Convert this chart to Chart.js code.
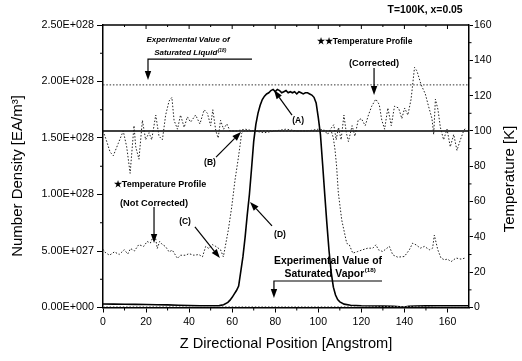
<!DOCTYPE html>
<html>
<head>
<meta charset="utf-8">
<title>Number density and temperature profile</title>
<script src="https://cdn.jsdelivr.net/npm/chart.js@4.4.1/dist/chart.umd.min.js"></script>
<style>
  body { margin: 0; background: #fff; }
  #wrap { width: 522px; height: 361px; }
</style>
</head>
<body>
<div id="wrap"><canvas id="chart" width="522" height="361"></canvas></div>
<script>
// Number density profile (solid line), in units of 1E+28 EA/m3
const densZ = [0, 5, 10, 15, 20, 25, 30, 35, 40, 45, 50, 54, 56, 58, 59,
  60, 61, 62, 63, 64, 65, 66, 67, 68, 69, 70, 71, 72, 73, 74, 75, 76, 77, 78, 79,
  80, 81, 82, 83, 84, 85, 86, 87, 88, 89, 90, 91, 92, 93, 94, 95, 96, 97, 98, 99,
  100, 101, 102, 103, 104, 105, 106, 107, 108, 109, 110,
  112, 115, 120, 125, 130, 135, 138, 140, 142, 145, 150, 155, 160, 165, 170];
const densE28 = [0.031, 0.030, 0.029, 0.028, 0.027, 0.025, 0.023, 0.020, 0.018, 0.016, 0.015, 0.017, 0.025, 0.045, 0.065,
  0.09, 0.12, 0.15, 0.19, 0.32, 0.45, 0.62, 0.82, 1.00, 1.23, 1.47, 1.62, 1.72, 1.79, 1.84, 1.87, 1.89, 1.90, 1.92, 1.93,
  1.91, 1.93, 1.92, 1.90, 1.91, 1.92, 1.90, 1.91, 1.90, 1.91, 1.89, 1.91, 1.90, 1.89, 1.90, 1.90, 1.89, 1.88, 1.86, 1.81,
  1.68, 1.53, 1.27, 1.00, 0.74, 0.50, 0.31, 0.18, 0.11, 0.07, 0.05,
  0.03, 0.02, 0.015, 0.013, 0.012, 0.010, 0.006, 0.003, 0.010, 0.013, 0.014, 0.015, 0.015, 0.015, 0.015];

// Temperature profile, corrected (dotted, right axis)
const tcZ = [0, 0.9, 2, 3.3, 4.8, 7.1, 9.4, 11, 12.6, 14.4, 15.2, 16.7, 18.3, 19.8, 21.4, 22.6, 24.5, 26, 27.6, 29.1,
  30.7, 32, 33, 34.6, 36, 37.7, 39.2, 40.7, 43, 45, 47, 48.5, 50, 51, 52.4, 53.5, 54.6, 56, 57.5, 59,
  62, 66, 70, 75, 80, 85, 90, 95, 100,
  102.8, 104.3, 105.9, 107.2, 108.3, 109.4, 110.6, 111.9, 113, 114, 115.7, 117, 118.5, 120, 121.8, 123.3, 124.8,
  126.7, 128.3, 129.5, 130.8, 132.3, 133.9, 135.4, 137.3, 138.8, 140.1, 141.6, 143.1, 144.7, 145.8, 147.8, 149.7,
  151.2, 152.8, 153.6, 154.4, 155.6, 156.7, 158.2, 159.8, 161.3, 162.9, 164.4, 166, 167.5, 168.6];
const tcT = [100, 97, 93, 88, 86, 93, 100, 91, 76, 103, 91, 84, 106, 95, 99, 95, 109, 97, 95, 109,
  117, 119, 106, 101, 109, 102, 108, 105, 109, 104, 112, 110, 103, 112, 100, 96, 106, 101, 104, 100,
  100, 101, 100, 99, 100, 101, 100, 100, 101,
  100.5, 98, 101.5, 103.5, 95, 102, 95, 109, 99, 94, 103, 97, 106, 107, 103, 109, 114,
  118, 115, 106, 101, 113, 103, 114, 113, 107, 113, 109, 118, 136, 134, 126, 121,
  114, 107, 98, 118, 112, 102, 95, 101, 91, 98, 89, 95, 100, 102];

// Temperature profile, not corrected (dotted, right axis)
const tnZ = [0, 0.7, 3, 5.3, 7.5, 9.9, 11.5, 12.8, 14.6, 16.6, 18.9, 20.5, 22, 23, 24.2, 25.2, 26.3, 27.6, 29,
  30.7, 32.2, 34.6, 36, 38.4, 39.9, 42.2, 44.5, 46.2, 47.7, 49.2, 50.8, 52.4, 54.6, 55.9,
  58.2, 59.8, 61.3, 62.9, 64.4, 65.5, 70, 80, 90, 100, 106,
  107, 107.8, 108.5, 109.3, 110.9, 113.2, 114.4, 116, 118.3, 120.6, 123, 125.3, 126.8, 127.9, 129.9,
  131.9, 133, 134.6, 136.9, 140, 142.3, 143.8, 145.4, 147.4, 149.3, 151.6, 153.1, 153.9, 155.5,
  157, 158.6, 160, 161.7, 164, 166.3, 168.2];
const tnT = [33, 31.5, 29.6, 31.5, 30, 32.7, 30.3, 33.4, 32, 35.6, 34.6, 37.4, 36.5, 39.3, 41, 33.4, 37.4, 35.6, 34.6,
  31.5, 32.5, 27.8, 29.6, 29.6, 30.5, 29.6, 30, 28.7, 34.6, 33.4, 35.6, 34.6, 32.7, 28.7,
  43.8, 57, 72, 85, 98.6, 100, 100, 100, 100, 100, 100,
  96, 89, 80, 65, 49.5, 36.4, 35.5, 30.8, 31.7, 32.7, 33.6, 33.6, 35.5, 32.7, 31.7,
  33.6, 34.6, 29.8, 28.5, 28.9, 32.7, 36.4, 35.5, 33.6, 34.6, 32.7, 33.6, 41, 32.7,
  28, 27, 27.4, 26, 28, 27.4, 28];

// Reference levels
const satLiquidE28 = 1.97;   // experimental saturated liquid density
const satVaporE28 = 0.008;   // experimental saturated vapor density
const refTemp = 100;         // T = 100 K
const zRange = [0, 170];

const E28 = 1e28;
const FONT = "'Liberation Sans', Arial, sans-serif";

// Text notes and arrows, placed in (z, temperature) units
const notes = [
  { text: 'T=100K, x=0.05', z: 149.6, t: 168.5, size: 10.4 },
  { text: 'Experimental Value of', z: 39.5, t: 151.8, size: 8, italic: true },
  { text: 'Saturated Liquid', sup: '(18)', z: 40.4, t: 144.1, size: 8, italic: true },
  { text: '\u2605\u2605Temperature Profile', z: 121.5, t: 150.4, size: 8.5 },
  { text: '(Corrected)', z: 125.9, t: 138.5, size: 9.3 },
  { text: '(A)', z: 90.6, t: 106, size: 8.5 },
  { text: '(B)', z: 49.7, t: 81.8, size: 8.5 },
  { text: '\u2605Temperature Profile', z: 26.5, t: 69.9, size: 9 },
  { text: '(Not Corrected)', z: 23.7, t: 59.2, size: 9.3 },
  { text: '(C)', z: 38.1, t: 48.4, size: 8.5 },
  { text: '(D)', z: 82.2, t: 41.1, size: 8.5 },
  { text: 'Experimental Value of', z: 104.5, t: 26.3, size: 10.4 },
  { text: 'Saturated Vapor', sup: '(18)', z: 105.4, t: 19.0, size: 10.4 }
];
const arrows = [
  [[69.2, 140.7], [20.9, 140.7], [20.9, 128.9]],
  [[125.9, 135.7], [125.9, 120.4]],
  [[87.8, 109.0], [79.4, 123.2]],
  [[52.5, 85.2], [64.1, 99.4]],
  [[23.7, 56.9], [23.7, 36.5]],
  [[42.7, 45.6], [54.3, 28.0]],
  [[78.5, 46.2], [68.3, 59.8]],
  [[129.6, 15.0], [79.4, 15.0], [79.4, 5.4]]
];

function pts(xs, ys, k) {
  return xs.map((x, i) => ({ x: x, y: ys[i] * (k || 1) }));
}

function sci(v) {
  if (v === 0) return '0.00E+000';
  let e = Math.floor(Math.log10(Math.abs(v)));
  let m = v / Math.pow(10, e);
  if (Math.round(m * 100) / 100 >= 10) { m /= 10; e++; }
  return m.toFixed(2) + 'E' + (e < 0 ? '-' : '+') + String(Math.abs(e)).padStart(3, '0');
}

// Minor ticks, top frame, axis titles, notes and arrows
const extras = {
  id: 'extras',
  afterDraw(chart) {
    const { ctx, chartArea: a, scales } = chart;
    const X = scales.x, Y = scales.y, T = scales.y1;
    ctx.save();
    ctx.strokeStyle = '#000';
    ctx.fillStyle = '#000';

    ctx.lineWidth = 1.5;
    ctx.beginPath();
    ctx.moveTo(a.left, a.top);
    ctx.lineTo(a.right, a.top);
    ctx.stroke();

    ctx.lineWidth = 1;
    ctx.beginPath();
    for (let z = 10; z < zRange[1]; z += 10) {
      const p = X.getPixelForValue(z);
      const major = z % 20 === 0;
      if (!major) { ctx.moveTo(p, a.bottom); ctx.lineTo(p, a.bottom + 3); }
      ctx.moveTo(p, a.top); ctx.lineTo(p, a.top + (major ? 4 : 2));
    }
    for (let d = 0.25; d < 2.5; d += 0.5) {
      const p = Y.getPixelForValue(d * E28);
      ctx.moveTo(a.left, p); ctx.lineTo(a.left - 3, p);
    }
    for (let t = 10; t < 160; t += 20) {
      const p = T.getPixelForValue(t);
      ctx.moveTo(a.right, p); ctx.lineTo(a.right + 2.5, p);
    }
    ctx.stroke();

    // axis titles (both read bottom to top)
    ctx.font = '15px ' + FONT;
    ctx.textAlign = 'center';
    ctx.textBaseline = 'middle';
    ctx.save();
    ctx.translate(18, 176);
    ctx.rotate(-Math.PI / 2);
    ctx.fillText('Number Density [EA/m\u00b3]', 0, 0);
    ctx.restore();
    ctx.save();
    ctx.translate(510, 179);
    ctx.rotate(-Math.PI / 2);
    ctx.fillText('Temperature [K]', 0, 0);
    ctx.restore();

    // notes
    notes.forEach(n => {
      const f = (n.italic ? 'italic ' : '') + 'bold ';
      const cx = X.getPixelForValue(n.z), cy = T.getPixelForValue(n.t);
      ctx.font = f + n.size + 'px ' + FONT;
      const w1 = ctx.measureText(n.text).width;
      let w2 = 0;
      if (n.sup) {
        ctx.font = f + (n.size * 0.6) + 'px ' + FONT;
        w2 = ctx.measureText(n.sup).width;
      }
      const x0 = cx - (w1 + w2) / 2;
      ctx.textAlign = 'left';
      ctx.font = f + n.size + 'px ' + FONT;
      ctx.fillText(n.text, x0, cy);
      if (n.sup) {
        ctx.font = f + (n.size * 0.6) + 'px ' + FONT;
        ctx.fillText(n.sup, x0 + w1 + 0.5, cy - n.size * 0.35);
      }
    });

    // arrows
    ctx.lineWidth = 1.2;
    arrows.forEach(path => {
      const p = path.map(q => [X.getPixelForValue(q[0]), T.getPixelForValue(q[1])]);
      const n = p.length;
      const [x1, y1] = p[n - 2], [x2, y2] = p[n - 1];
      const ang = Math.atan2(y2 - y1, x2 - x1);
      const hl = 9, hw = 3.2;
      ctx.beginPath();
      ctx.moveTo(p[0][0], p[0][1]);
      for (let i = 1; i < n - 1; i++) ctx.lineTo(p[i][0], p[i][1]);
      ctx.lineTo(x2 - Math.cos(ang) * hl, y2 - Math.sin(ang) * hl);
      ctx.stroke();
      ctx.beginPath();
      ctx.moveTo(x2, y2);
      ctx.lineTo(x2 - Math.cos(ang) * hl - Math.sin(ang) * hw, y2 - Math.sin(ang) * hl + Math.cos(ang) * hw);
      ctx.lineTo(x2 - Math.cos(ang) * hl + Math.sin(ang) * hw, y2 - Math.sin(ang) * hl - Math.cos(ang) * hw);
      ctx.closePath();
      ctx.fill();
    });
    ctx.restore();
  }
};

Chart.defaults.font.family = FONT;
Chart.defaults.color = '#000';

const dotted = (data, axis, color) => ({
  data: data, yAxisID: axis, borderColor: color || '#222', borderWidth: 1,
  borderDash: [1.5, 1.8], pointRadius: 0, tension: 0, fill: false
});

new Chart(document.getElementById('chart'), {
  type: 'line',
  data: {
    datasets: [
      dotted(pts(zRange, [satLiquidE28, satLiquidE28], E28), 'y', '#333'),
      dotted(pts(zRange, [satVaporE28, satVaporE28], E28), 'y', '#888'),
      dotted(pts(tnZ, tnT), 'y1'),
      dotted(pts(tcZ, tcT), 'y1'),
      {
        data: pts(zRange, [refTemp, refTemp]), yAxisID: 'y1',
        borderColor: '#000', borderWidth: 1.4, pointRadius: 0
      },
      {
        data: pts(densZ, densE28, E28), yAxisID: 'y',
        borderColor: '#000', borderWidth: 1.6, pointRadius: 0, tension: 0
      }
    ]
  },
  options: {
    responsive: false,
    animation: false,
    layout: { padding: { top: 25, bottom: 4, left: 0, right: 0 } },
    plugins: { legend: { display: false }, tooltip: { enabled: false } },
    scales: {
      x: {
        type: 'linear', min: zRange[0], max: zRange[1],
        ticks: { stepSize: 20, includeBounds: false, font: { size: 10.5 }, padding: 3, maxRotation: 0 },
        grid: { drawOnChartArea: false, tickLength: 5, tickColor: '#000', tickWidth: 1 },
        border: { color: '#000', width: 1.5 },
        title: { display: true, text: 'Z Directional Position [Angstrom]', font: { size: 14.6 }, padding: { top: 4, bottom: 4 } },
        afterFit(s) { s.height = 361 - 4 - 307.5; }
      },
      y: {
        position: 'left', min: 0, max: 2.5 * E28,
        ticks: { stepSize: 0.5 * E28, font: { size: 10.8 }, padding: 3, callback: v => sci(v) },
        grid: { drawOnChartArea: false, tickLength: 6, tickColor: '#000', tickWidth: 1 },
        border: { color: '#000', width: 1.5 },
        afterFit(s) { s.width = 103; }
      },
      y1: {
        position: 'right', min: 0, max: 160,
        ticks: { stepSize: 20, font: { size: 10.5 }, padding: 1 },
        grid: { drawOnChartArea: false, tickLength: 4, tickColor: '#000', tickWidth: 1 },
        border: { color: '#000', width: 1.5 },
        afterFit(s) { s.width = 522 - 469; }
      }
    }
  },
  plugins: [extras]
});
</script>
</body>
</html>
